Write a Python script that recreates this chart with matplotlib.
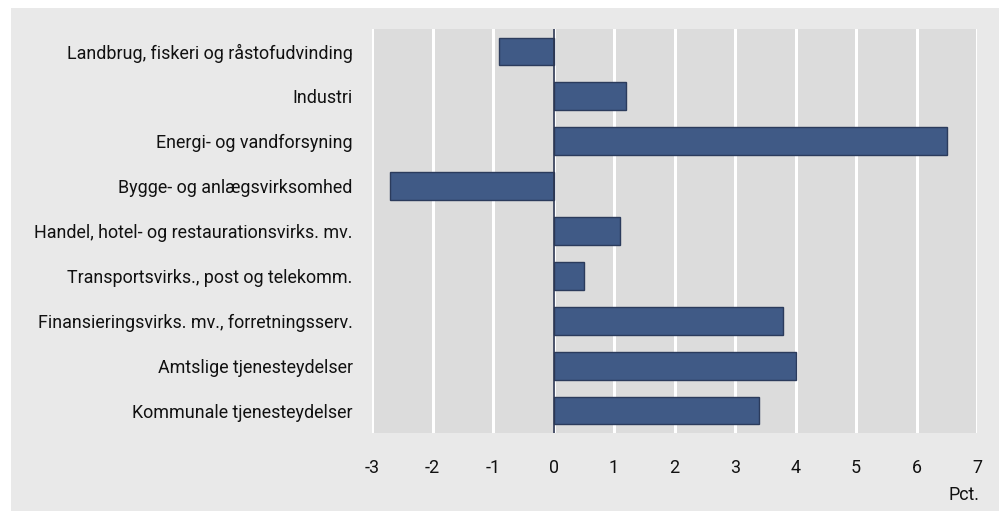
import matplotlib
matplotlib.use("Agg")
import matplotlib.pyplot as plt
from matplotlib.patches import Rectangle

categories = [
    "Landbrug, fiskeri og råstofudvinding",
    "Industri",
    "Energi- og vandforsyning",
    "Bygge- og anlægsvirksomhed",
    "Handel, hotel- og restaurationsvirks. mv.",
    "Transportsvirks., post og telekomm.",
    "Finansieringsvirks. mv., forretningsserv.",
    "Amtslige tjenesteydelser",
    "Kommunale tjenesteydelser",
]
values = [-0.9, 1.2, 6.5, -2.7, 1.1, 0.5, 3.8, 4.0, 3.4]
xticks = [-3, -2, -1, 0, 1, 2, 3, 4, 5, 6, 7]
unit_label = "Pct."

plt.rcParams['font.family'] = ['Roboto', 'DejaVu Sans']
FS = 12.9

W, H = 999, 511
fig = plt.figure(figsize=(W / 100, H / 100), dpi=100)
fig.patch.set_facecolor("white")
fig.patches.append(Rectangle((11 / W, 0), (W - 11) / W, (H - 8) / H,
                             transform=fig.transFigure, facecolor="#e9e9e9",
                             edgecolor="none", zorder=-10))

ax = fig.add_axes([372 / W, 1 - 433 / H, (977 - 372) / W, (433 - 29) / H])
ax.set_zorder(1)
ax.set_facecolor("#dcdcdc")
ypos = list(range(len(categories)))
ax.barh(ypos, values, height=0.62, color="#405a86", edgecolor="#2b3b5c",
        linewidth=1.0, zorder=3)
ax.set_xlim(-3, 7)
ax.set_ylim(len(categories) - 0.5, -0.5)
ax.set_xticks(xticks)
ax.set_xticklabels([str(t) for t in xticks])
ax.set_yticks(ypos)
ax.set_yticklabels(categories)
ax.tick_params(axis="both", length=0, labelsize=FS, colors="#111111")
ax.tick_params(axis="x", pad=19)
ax.tick_params(axis="y", pad=14)
ax.grid(axis="x", color="white", linewidth=2.2, zorder=1)
ax.set_axisbelow(True)
for s in ax.spines.values():
    s.set_visible(False)
ax.axvline(0, color="#2b3550", linewidth=1.2, zorder=4)

fig.text(979 / W, 1 - 495 / H, unit_label, ha="right", va="center",
         fontsize=FS, color="#111111")

fig.savefig("out.png", dpi=100, facecolor=fig.get_facecolor())
